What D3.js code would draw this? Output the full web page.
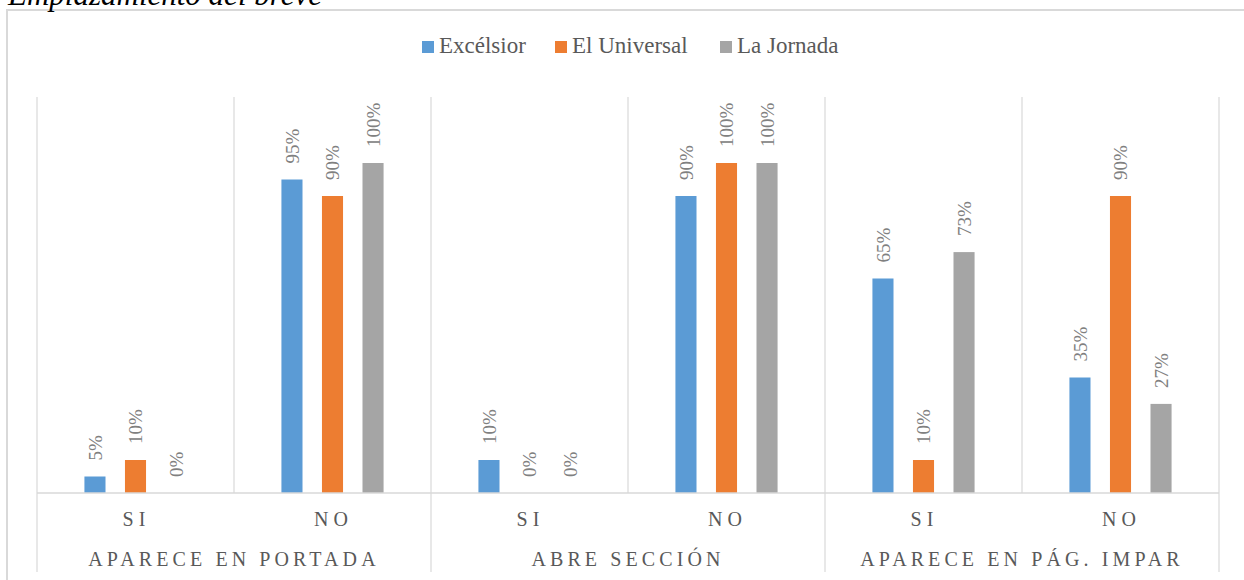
<!DOCTYPE html>
<meta charset="utf-8">
<style>
  body { margin: 0; background: #fff; }
  svg, svg text { font-family: "Liberation Serif", "Tinos", "DejaVu Serif", serif; }
</style>
<svg id="chart" width="1244" height="580"></svg>
<script src="https://cdn.jsdelivr.net/npm/d3@7"></script>
<script>

var groups = ["APARECE EN PORTADA", "ABRE SECCIÓN", "APARECE EN PÁG. IMPAR"];
var answers = ["SI", "NO"];
var series = ["Excélsior", "El Universal", "La Jornada"];
var excelsior = [5, 95, 10, 90, 65, 35];
var universal = [10, 90, 0, 100, 10, 90];
var jornada = [0, 100, 0, 100, 73, 27];
var colors = ["#5b9bd5", "#ed7d31", "#a5a5a5"];

var svg = d3.select("svg#chart"),
	plotLeft = 37, plotRight = 1219, plotTop = 97, base = 493;

// one row per category (group + answer)
var cats = [];
groups.forEach(function(g, gi) {
	answers.forEach(function(a, ai) {
		var i = gi * answers.length + ai;
		cats.push({ key: g + "|" + a, group: g, answer: a,
			values: [excelsior[i], universal[i], jornada[i]] });
	});
});

var x0 = d3.scaleBand()
	.domain(cats.map(function(d) { return d.key; }))
	.range([plotLeft, plotRight]);

var x1 = d3.scaleBand()
	.domain(series)
	.range([0, x0.bandwidth()])
	.paddingInner(0.48)
	.paddingOuter(1.17);

var y = d3.scaleLinear().domain([0, 120]).range([base, plotTop]);

var color = d3.scaleOrdinal().domain(series).range(colors);

// chart frame (right and bottom edges fall outside the picture)
svg.append("rect")
	.attr("x", 7).attr("y", 10)
	.attr("width", 1300).attr("height", 700)
	.attr("fill", "none")
	.attr("stroke", "#d9d9d9")
	.attr("stroke-width", 2);

// title, mostly cut off at the top
svg.append("text")
	.attr("x", 8).attr("y", 5)
	.attr("font-style", "italic")
	.attr("font-size", 31)
	.attr("fill", "#000")
	.text("Emplazamiento del breve");

// vertical gridlines between categories
var bounds = cats.map(function(d) { return x0(d.key); }).concat([plotRight]);
svg.append("g").selectAll("line")
	.data(bounds)
	.enter().append("line")
		.attr("x1", function(d) { return d; })
		.attr("x2", function(d) { return d; })
		.attr("y1", plotTop)
		.attr("y2", base)
		.attr("stroke", "#d9d9d9")
		.attr("stroke-width", 1.2);

// group separators below the axis
var gbounds = groups.map(function(g) { return x0(g + "|" + answers[0]); }).concat([plotRight]);
svg.append("g").selectAll("line")
	.data(gbounds)
	.enter().append("line")
		.attr("x1", function(d) { return d; })
		.attr("x2", function(d) { return d; })
		.attr("y1", base)
		.attr("y2", 572)
		.attr("stroke", "#d9d9d9")
		.attr("stroke-width", 1.2);

// bars
var cat = svg.append("g").selectAll("g")
	.data(cats)
	.enter().append("g")
		.attr("transform", function(d) { return "translate(" + x0(d.key) + ",0)"; });

var items = cat.selectAll("g")
	.data(function(d) {
		return d.values.map(function(v, i) { return { s: series[i], v: v }; });
	})
	.enter().append("g");

items.append("rect")
	.attr("x", function(d) { return x1(d.s); })
	.attr("y", function(d) { return y(d.v); })
	.attr("width", x1.bandwidth())
	.attr("height", function(d) { return base - y(d.v); })
	.attr("fill", function(d) { return color(d.s); });

items.append("text")
	.attr("transform", function(d) {
		return "translate(" + (x1(d.s) + x1.bandwidth() / 2) + "," + (y(d.v) - 16) + ") rotate(-90)";
	})
	.attr("dy", "0.35em")
	.attr("font-size", 19)
	.attr("fill", "#808080")
	.text(function(d) { return d.v + "%"; });

// axis baseline
svg.append("line")
	.attr("x1", plotLeft).attr("x2", plotRight)
	.attr("y1", base).attr("y2", base)
	.attr("stroke", "#d9d9d9")
	.attr("stroke-width", 1.5);

// category labels
svg.append("g").selectAll("text")
	.data(cats)
	.enter().append("text")
		.attr("x", function(d) { return x0(d.key) + x0.bandwidth() / 2 + 1; })
		.attr("y", 526)
		.attr("text-anchor", "middle")
		.attr("font-size", 20)
		.attr("letter-spacing", 5)
		.attr("fill", "#595959")
		.text(function(d) { return d.answer; });

svg.append("g").selectAll("text")
	.data(groups)
	.enter().append("text")
		.attr("x", function(g) { return x0(g + "|" + answers[0]) + x0.bandwidth(); })
		.attr("y", 566)
		.attr("text-anchor", "middle")
		.attr("font-size", 20)
		.attr("letter-spacing", 4.1)
		.attr("fill", "#595959")
		.text(function(g) { return g; });

// legend
var legendX = [422, 555, 720];
var legend = svg.append("g").selectAll("g")
	.data(series)
	.enter().append("g")
		.attr("transform", function(d, i) { return "translate(" + legendX[i] + ",41)"; });

legend.append("rect")
	.attr("width", 12).attr("height", 12)
	.attr("fill", function(d) { return color(d); });

legend.append("text")
	.attr("x", 17).attr("y", 12)
	.attr("font-size", 23)
	.attr("fill", "#595959")
	.text(function(d) { return d; });

</script>
